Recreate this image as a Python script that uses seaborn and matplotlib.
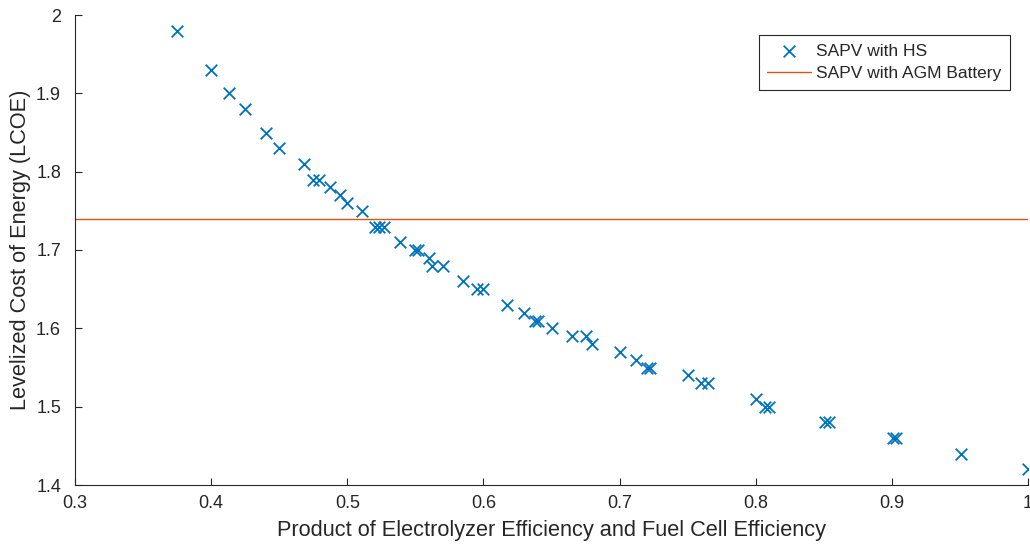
import numpy as np
import pandas as pd
import matplotlib
matplotlib.use("Agg")
import matplotlib.pyplot as plt
import seaborn as sns

# Product of electrolyzer efficiency and fuel cell efficiency
efficiency = [0.375, 0.400, 0.413, 0.425, 0.440, 0.450, 0.468, 0.475, 0.479,
              0.487, 0.495, 0.500, 0.511, 0.520, 0.523, 0.527, 0.539, 0.550,
              0.552, 0.560, 0.562, 0.570, 0.585, 0.595, 0.600, 0.617, 0.630,
              0.638, 0.640, 0.650, 0.665, 0.675, 0.680, 0.700, 0.712, 0.720,
              0.722, 0.750, 0.760, 0.765, 0.800, 0.807, 0.810, 0.851, 0.854,
              0.901, 0.903, 0.951, 1.000]
lcoe_hs = [1.98, 1.93, 1.90, 1.88, 1.85, 1.83, 1.81, 1.79, 1.79,
           1.78, 1.77, 1.76, 1.75, 1.73, 1.73, 1.73, 1.71, 1.70,
           1.70, 1.69, 1.68, 1.68, 1.66, 1.65, 1.65, 1.63, 1.62,
           1.61, 1.61, 1.60, 1.59, 1.59, 1.58, 1.57, 1.56, 1.55,
           1.55, 1.54, 1.53, 1.53, 1.51, 1.50, 1.50, 1.48, 1.48,
           1.46, 1.46, 1.44, 1.42]
battery_x = [0.3, 1.0]
battery_lcoe = [1.74, 1.74]

x_ticks = [0.3, 0.4, 0.5, 0.6, 0.7, 0.8, 0.9, 1.0]
x_tick_labels = ["0.3", "0.4", "0.5", "0.6", "0.7", "0.8", "0.9", "1"]
y_ticks = [1.4, 1.5, 1.6, 1.7, 1.8, 1.9, 2.0]
y_tick_labels = ["1.4", "1.5", "1.6", "1.7", "1.8", "1.9", "2"]

sns.set_theme(style="ticks")
plt.rcParams['font.family'] = ['Liberation Sans', 'DejaVu Sans']
text_color = "#262626"

fig = plt.figure(figsize=(10.3, 5.48), dpi=100)
ax = fig.add_axes([75/1030, 63/548, (1028-75)/1030, (485-15)/548])

df_hs = pd.DataFrame({"x": efficiency, "y": lcoe_hs})
df_bat = pd.DataFrame({"x": battery_x, "y": battery_lcoe})

sns.scatterplot(data=df_hs, x="x", y="y", marker="x", s=70, color="#0072BD",
                linewidth=1.3, ax=ax, label="SAPV with HS", zorder=3)
sns.lineplot(data=df_bat, x="x", y="y", color="#D95319", linewidth=1.0,
             ax=ax, label="SAPV with AGM Battery", zorder=2)

ax.set_xlim(0.3, 1.0)
ax.set_ylim(1.4, 2.0)
ax.set_xticks(x_ticks)
ax.set_xticklabels(x_tick_labels)
ax.set_yticks(y_ticks)
ax.set_yticklabels(y_tick_labels)
ax.tick_params(axis="y", pad=10)
ax.tick_params(axis="x", pad=7)
ax.tick_params(direction="in", length=5, width=0.8, colors=text_color,
               labelsize=13)
for side in ["top", "right"]:
    ax.spines[side].set_visible(False)
for side in ["left", "bottom"]:
    ax.spines[side].set_color(text_color)
    ax.spines[side].set_linewidth(0.8)

ax.set_xlabel("Product of Electrolyzer Efficiency and Fuel Cell Efficiency",
              fontsize=15.7, color=text_color, labelpad=6)
ax.set_ylabel("Levelized Cost of Energy (LCOE)", fontsize=15.7,
              color=text_color, labelpad=4)

leg = ax.legend(loc="upper right", bbox_to_anchor=(1010/1030, 1 - 35/548),
                bbox_transform=fig.transFigure, fontsize=12.5, frameon=True,
                fancybox=False, edgecolor="#262626", framealpha=1,
                handlelength=2.5, handletextpad=0.3, borderpad=0.5,
                labelspacing=0.4, borderaxespad=0)
leg.get_frame().set_linewidth(0.8)
for t in leg.get_texts():
    t.set_color(text_color)

fig.savefig("out.png", dpi=100)
